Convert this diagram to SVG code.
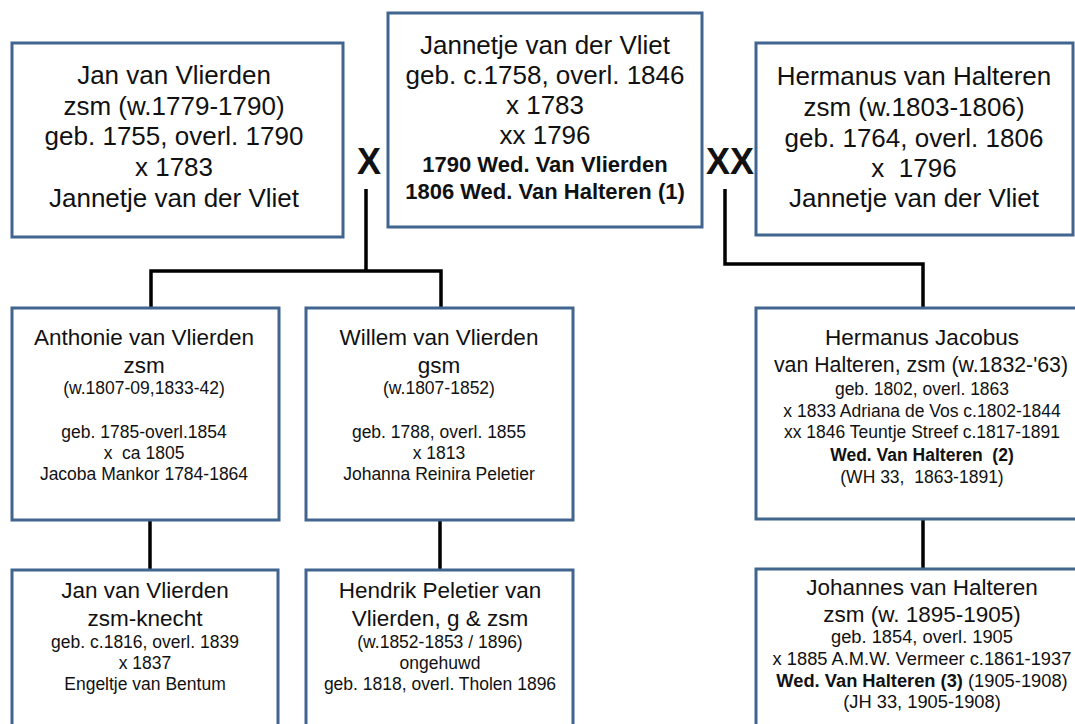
<svg xmlns="http://www.w3.org/2000/svg" width="1075" height="724" viewBox="0 0 1075 724">
<style>
.box{fill:#ffffff;stroke:#41658f;stroke-width:3}
text{font-family:"Liberation Sans",Arial,sans-serif;fill:#111111;text-anchor:middle}
.l{font-size:26px}
.m{font-size:22.5px}
.s{font-size:17.5px}
.s2{font-size:18.3px}
.b{font-weight:bold}
.bl{font-size:22px;font-weight:bold}
.mk{font-size:36px;font-weight:bold}
.con{fill:none;stroke:#000000;stroke-width:3.5}
</style>
<rect width="1075" height="724" fill="#ffffff"/>
<g id="connectors">
<path class="con" d="M366,189 V271 M151,308 V271 H441 V308"/>
<path class="con" d="M725,189 V264 H923 V308"/>
<path class="con" d="M150,520 V570"/>
<path class="con" d="M440,520 V570"/>
<path class="con" d="M923,519 V569"/>
<text class="mk" x="369" y="174">X</text>
<text class="mk" x="730" y="174">XX</text>
</g>
<g id="jan-van-vlierden">
<rect class="box" x="12" y="43" width="331" height="194"/>
<text class="l" x="174" y="84">Jan van Vlierden</text>
<text class="l" x="174" y="115">zsm (w.1779-1790)</text>
<text class="l" x="174" y="145">geb. 1755, overl. 1790</text>
<text class="l" x="174" y="176">x 1783</text>
<text class="l" x="174" y="207">Jannetje van der Vliet</text>
</g>
<g id="jannetje-van-der-vliet">
<rect class="box" x="388" y="13" width="314" height="214"/>
<text class="l" x="545" y="54">Jannetje van der Vliet</text>
<text class="l" x="545" y="84">geb. c.1758, overl. 1846</text>
<text class="l" x="545" y="114">x 1783</text>
<text class="l" x="545" y="144">xx 1796</text>
<text class="bl" x="545" y="172">1790 Wed. Van Vlierden</text>
<text class="bl" x="545" y="199">1806 Wed. Van Halteren (1)</text>
</g>
<g id="hermanus-van-halteren">
<rect class="box" x="756" y="43" width="317" height="192"/>
<text class="l" x="914" y="85">Hermanus van Halteren</text>
<text class="l" x="914" y="116">zsm (w.1803-1806)</text>
<text class="l" x="914" y="147">geb. 1764, overl. 1806</text>
<text class="l" x="914" y="177" xml:space="preserve">x  1796</text>
<text class="l" x="914" y="207">Jannetje van der Vliet</text>
</g>
<g id="anthonie-van-vlierden">
<rect class="box" x="12" y="308" width="267" height="212"/>
<text class="m" x="144" y="345">Anthonie van Vlierden</text>
<text class="m" x="144" y="373">zsm</text>
<text class="s" x="144" y="394">(w.1807-09,1833-42)</text>
<text class="s" x="144" y="438">geb. 1785-overl.1854</text>
<text class="s" x="144" y="459" xml:space="preserve">x  ca 1805</text>
<text class="s" x="144" y="480">Jacoba Mankor 1784-1864</text>
</g>
<g id="willem-van-vlierden">
<rect class="box" x="306" y="308" width="267" height="212"/>
<text class="m" x="439" y="345">Willem van Vlierden</text>
<text class="m" x="439" y="373">gsm</text>
<text class="s" x="439" y="394">(w.1807-1852)</text>
<text class="s" x="439" y="438">geb. 1788, overl. 1855</text>
<text class="s" x="439" y="459">x 1813</text>
<text class="s" x="439" y="480">Johanna Reinira Peletier</text>
</g>
<g id="hermanus-jacobus-van-halteren">
<rect class="box" x="756" y="308" width="332" height="211"/>
<text class="m" x="922" y="345">Hermanus Jacobus</text>
<text class="m" x="921" y="372" style="font-size:21.3px">van Halteren, zsm (w.1832-'63)</text>
<text class="s" x="922" y="395">geb. 1802, overl. 1863</text>
<text class="s" x="922" y="417">x 1833 Adriana de Vos c.1802-1844</text>
<text class="s" x="922" y="438">xx 1846 Teuntje Streef c.1817-1891</text>
<text class="s b" x="922" y="461" xml:space="preserve">Wed. Van Halteren  (2)</text>
<text class="s" x="922" y="483" xml:space="preserve">(WH 33,  1863-1891)</text>
</g>
<g id="jan-van-vlierden-knecht">
<rect class="box" x="12" y="570" width="266" height="170"/>
<text class="m" x="145" y="598">Jan van Vlierden</text>
<text class="m" x="145" y="626">zsm-knecht</text>
<text class="s" x="145" y="648">geb. c.1816, overl. 1839</text>
<text class="s" x="145" y="669">x 1837</text>
<text class="s" x="145" y="690">Engeltje van Bentum</text>
</g>
<g id="hendrik-peletier-van-vlierden">
<rect class="box" x="306" y="570" width="267" height="170"/>
<text class="m" x="440" y="598">Hendrik Peletier van</text>
<text class="m" x="440" y="626">Vlierden, g &amp; zsm</text>
<text class="s" x="440" y="648">(w.1852-1853 / 1896)</text>
<text class="s" x="440" y="669">ongehuwd</text>
<text class="s" x="440" y="690">geb. 1818, overl. Tholen 1896</text>
</g>
<g id="johannes-van-halteren">
<rect class="box" x="756" y="569" width="332" height="171"/>
<text class="m" x="922" y="595">Johannes van Halteren</text>
<text class="m" x="922" y="622">zsm (w. 1895-1905)</text>
<text class="s2" x="922" y="643">geb. 1854, overl. 1905</text>
<text class="s2" x="922" y="665">x 1885 A.M.W. Vermeer c.1861-1937</text>
<text class="s2" x="922" y="687"><tspan font-weight="bold">Wed. Van Halteren (3)</tspan> (1905-1908)</text>
<text class="s2" x="922" y="708">(JH 33, 1905-1908)</text>
</g>
</svg>
